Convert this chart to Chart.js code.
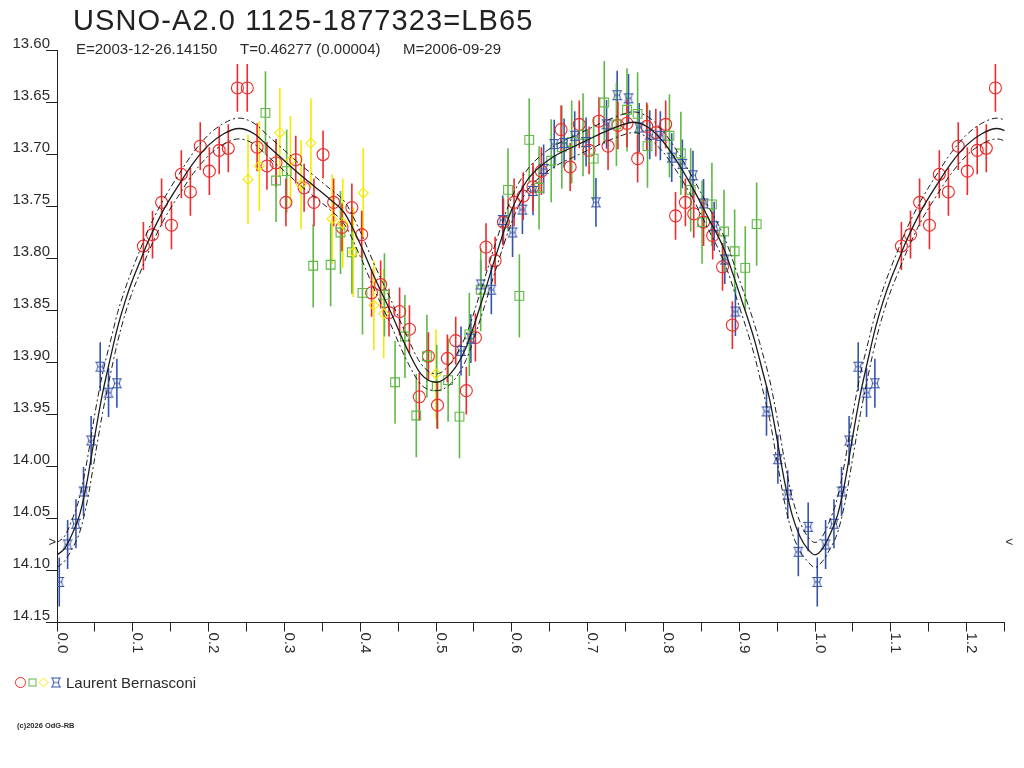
<!DOCTYPE html>
<html lang="en">
<head>
<meta charset="utf-8">
<title>USNO-A2.0 1125-1877323=LB65</title>
<script src="https://cdn.jsdelivr.net/npm/chart.js@4.4.1/dist/chart.umd.min.js"></script>
<style>
  html, body { margin: 0; padding: 0; background: #fff; }
  #page { position: relative; width: 1024px; height: 768px; overflow: hidden;
          font-family: "Liberation Sans", Arial, sans-serif; color: #2b2b2b; }
  #page canvas { position: absolute; left: 0; top: 0; }
  .txt { position: absolute; white-space: pre; }
  #title { left: 73px; top: 6px; font-size: 29px; line-height: 29px; letter-spacing: 1.1px; color: #222; }
  .sub { top: 41px; font-size: 15px; line-height: 15px; }
  #observer { left: 66px; top: 675px; font-size: 15px; line-height: 15px; }
  #copy { left: 17px; top: 722px; font-size: 7.5px; line-height: 7.5px; font-weight: bold; }
</style>
</head>
<body>
<div id="page">
  <canvas id="lightCurve" width="1024" height="768"></canvas>
  <div class="txt" id="title">USNO-A2.0 1125-1877323=LB65</div>
  <div class="txt sub" style="left:76px">E=2003-12-26.14150</div>
  <div class="txt sub" style="left:240px">T=0.46277 (0.00004)</div>
  <div class="txt sub" style="left:403px">M=2006-09-29</div>
  <div class="txt" id="observer">Laurent Bernasconi</div>
  <div class="txt" id="copy">(c)2026 OdG-RB</div>
</div>
<script>
// phases 0..1, the plot repeats them up to phase 1.25
const phaseMax = 1.25;

const redPhase = [0.114, 0.126, 0.138, 0.151, 0.164, 0.176, 0.189, 0.201, 0.214, 0.226, 0.238, 0.251, 0.264, 0.277, 0.289,
    0.302, 0.315, 0.326, 0.339, 0.351, 0.365, 0.376, 0.389, 0.402, 0.415, 0.427, 0.438, 0.452, 0.465, 0.478, 0.490,
    0.502, 0.515, 0.526, 0.540, 0.552, 0.566, 0.578, 0.589, 0.603, 0.615, 0.628, 0.639, 0.665, 0.677, 0.689, 0.702,
    0.715, 0.727, 0.740, 0.752, 0.766, 0.778, 0.790, 0.803, 0.816, 0.829, 0.840, 0.853, 0.865, 0.878, 0.891];
const redMag = [13.788, 13.777, 13.746, 13.768, 13.719, 13.736, 13.692, 13.716, 13.696, 13.694, 13.636, 13.636, 13.693, 13.711, 13.708,
    13.746, 13.705, 13.732, 13.746, 13.700, 13.746, 13.770, 13.751, 13.777, 13.833, 13.825, 13.852, 13.851, 13.868, 13.933, 13.894,
    13.941, 13.896, 13.879, 13.927, 13.876, 13.789, 13.802, 13.765, 13.746, 13.740, 13.731, 13.716, 13.676, 13.712, 13.671, 13.696,
    13.668, 13.692, 13.672, 13.670, 13.704, 13.673, 13.679, 13.671, 13.759, 13.746, 13.757, 13.765, 13.778, 13.808, 13.864];

const greenPhase = [0.275, 0.289, 0.303, 0.338, 0.361, 0.374, 0.389, 0.403, 0.432, 0.446, 0.459, 0.474, 0.488, 0.501,
    0.516, 0.531, 0.544, 0.559, 0.595, 0.610, 0.623, 0.636, 0.652, 0.666, 0.679, 0.694, 0.708, 0.722, 0.738, 0.752,
    0.766, 0.779, 0.808, 0.823, 0.836, 0.851, 0.864, 0.880, 0.894, 0.908, 0.923];
const greenMag = [13.660, 13.725, 13.716, 13.807, 13.806, 13.775, 13.794, 13.833, 13.835, 13.919, 13.875, 13.951, 13.894, 13.923,
    13.917, 13.952, 13.873, 13.830, 13.734, 13.836, 13.686, 13.732, 13.706, 13.693, 13.688, 13.681, 13.704, 13.650, 13.671, 13.657,
    13.661, 13.692, 13.682, 13.699, 13.734, 13.765, 13.748, 13.774, 13.793, 13.809, 13.767];

const yellowPhase = [0.252, 0.267, 0.294, 0.308, 0.322, 0.335, 0.363, 0.377, 0.391, 0.404, 0.418, 0.431, 0.500];
const yellowMag = [13.724, 13.711, 13.679, 13.706, 13.729, 13.689, 13.762, 13.766, 13.794, 13.737, 13.845, 13.853, 13.911];

const bluePhase = [0.003, 0.014, 0.025, 0.035, 0.045, 0.057, 0.068, 0.079, 0.533, 0.546, 0.559, 0.573, 0.588, 0.601,
    0.614, 0.628, 0.642, 0.656, 0.669, 0.683, 0.698, 0.711, 0.725, 0.739, 0.754, 0.768, 0.782, 0.796, 0.811, 0.825,
    0.839, 0.853, 0.867, 0.881, 0.895, 0.936, 0.951, 0.964, 0.978, 0.991];
const blueMag = [14.111, 14.075, 14.055, 14.024, 13.975, 13.904, 13.929, 13.920, 13.889, 13.877, 13.825, 13.830, 13.763, 13.775,
    13.753, 13.735, 13.714, 13.690, 13.689, 13.682, 13.688, 13.746, 13.671, 13.643, 13.646, 13.674, 13.681, 13.682, 13.703, 13.709,
    13.720, 13.747, 13.769, 13.801, 13.851, 13.947, 13.993, 14.027, 14.082, 14.058];

// error bar half lengths (mag)
const redErr = 0.023;
const greenErr = 0.040;
const yellowErr = 0.043;
const blueErr = 0.0235;

// fitted light curve and its envelope
const fitPhase = [0, 0.01, 0.02, 0.03, 0.04, 0.05, 0.06, 0.07, 0.08, 0.09, 0.10, 0.11, 0.12,
    0.14, 0.16, 0.18, 0.20, 0.22, 0.24, 0.26, 0.28, 0.30, 0.32, 0.34, 0.36, 0.38, 0.40, 0.42, 0.44, 0.46, 0.48,
    0.50, 0.52, 0.54, 0.56, 0.58, 0.60, 0.62, 0.64, 0.66, 0.68, 0.70, 0.72, 0.74, 0.76, 0.78, 0.80, 0.82, 0.84,
    0.86, 0.88, 0.90, 0.92, 0.93, 0.94, 0.95, 0.96, 0.97, 0.98, 0.99, 1.00];
const fitMag = [14.085, 14.079, 14.065, 14.046, 14.013, 13.970, 13.930, 13.897, 13.866, 13.841, 13.820, 13.802, 13.784,
    13.754, 13.730, 13.708, 13.691, 13.680, 13.675, 13.680, 13.693, 13.706, 13.719, 13.731, 13.743, 13.757, 13.786, 13.820, 13.851, 13.884, 13.911,
    13.919, 13.910, 13.885, 13.842, 13.795, 13.753, 13.725, 13.710, 13.700, 13.693, 13.686, 13.679, 13.673, 13.669, 13.674, 13.688, 13.709, 13.734,
    13.762, 13.791, 13.833, 13.878, 13.906, 13.935, 13.974, 14.015, 14.047, 14.067, 14.079, 14.085];
const fitUpper = [14.073, 14.067, 14.051, 14.029, 13.993, 13.949, 13.911, 13.881, 13.852, 13.829, 13.809, 13.791, 13.773,
    13.744, 13.720, 13.698, 13.681, 13.670, 13.665, 13.670, 13.683, 13.696, 13.709, 13.721, 13.733, 13.746, 13.774, 13.808, 13.839, 13.872, 13.901,
    13.911, 13.900, 13.873, 13.829, 13.782, 13.741, 13.715, 13.700, 13.690, 13.683, 13.676, 13.669, 13.663, 13.659, 13.664, 13.678, 13.699, 13.724,
    13.751, 13.779, 13.820, 13.863, 13.889, 13.916, 13.953, 13.995, 14.030, 14.053, 14.067, 14.073];
const fitLower = [14.097, 14.091, 14.079, 14.063, 14.033, 13.991, 13.949, 13.913, 13.880, 13.853, 13.831, 13.813, 13.795,
    13.764, 13.740, 13.718, 13.701, 13.690, 13.685, 13.690, 13.703, 13.716, 13.729, 13.741, 13.753, 13.768, 13.798, 13.832, 13.863, 13.896, 13.921,
    13.927, 13.920, 13.897, 13.855, 13.808, 13.765, 13.735, 13.720, 13.710, 13.703, 13.696, 13.689, 13.683, 13.679, 13.684, 13.698, 13.719, 13.744,
    13.773, 13.803, 13.846, 13.893, 13.923, 13.954, 13.995, 14.035, 14.064, 14.081, 14.091, 14.097];

// level marked with > and < on both sides
const minLevel = 14.073;

const RED = '#ee2a2a';
const GREEN = '#5fb845';
const YELLOW = '#f6e800';
const BLUE = '#3653aa';
const INK = '#2b2b2b';

// phase points plus their copy one cycle later (while still on the plot)
function foldPoints(phases, mags, limit) {
    const pts = phases.map((p, i) => ({ x: p, y: mags[i] }));
    phases.forEach((p, i) => {
        if (p > 0 && p + 1 <= limit) pts.push({ x: p + 1, y: mags[i] });
    });
    return pts;
}

function blueMarker() {
    const c = document.createElement('canvas');
    c.width = 12;
    c.height = 12;
    const g = c.getContext('2d');
    g.strokeStyle = BLUE;
    g.lineWidth = 1;
    g.beginPath();
    g.moveTo(1, 1.5); g.lineTo(11, 1.5);
    g.moveTo(1, 10.5); g.lineTo(11, 10.5);
    g.moveTo(2.5, 1.5); g.quadraticCurveTo(4.6, 6, 2.5, 10.5);
    g.moveTo(9.5, 1.5); g.quadraticCurveTo(7.4, 6, 9.5, 10.5);
    g.moveTo(3.5, 6); g.lineTo(8.5, 6);
    g.stroke();
    return c;
}
const blueStyle = blueMarker();

const errorBars = {
    id: 'errorBars',
    beforeDatasetsDraw(chart) {
        const { ctx, chartArea, scales } = chart;
        ctx.save();
        ctx.beginPath();
        ctx.rect(chartArea.left, chartArea.top, chartArea.right - chartArea.left, chartArea.bottom - chartArea.top);
        ctx.clip();
        chart.data.datasets.forEach((ds, i) => {
            if (!ds.errorBar) return;
            ctx.strokeStyle = ds.barColor;
            ctx.lineWidth = 1.6;
            chart.getDatasetMeta(i).data.forEach((el, j) => {
                const mag = ds.data[j].y;
                ctx.beginPath();
                ctx.moveTo(el.x, scales.y.getPixelForValue(mag - ds.errorBar));
                ctx.lineTo(el.x, scales.y.getPixelForValue(mag + ds.errorBar));
                ctx.stroke();
            });
        });
        ctx.restore();
    }
};

const axisExtras = {
    id: 'axisExtras',
    afterDraw(chart) {
        const { ctx, chartArea, scales } = chart;
        ctx.save();
        ctx.fillStyle = INK;

        // phase labels, turned to read downwards
        ctx.font = '15px "Liberation Sans", Arial, sans-serif';
        ctx.textAlign = 'left';
        ctx.textBaseline = 'alphabetic';
        scales.x.ticks.forEach(t => {
            const k = Math.round(t.value * 20);
            if (Math.abs(t.value * 20 - k) > 1e-6 || k % 2 !== 0) return;
            ctx.save();
            ctx.translate(scales.x.getPixelForValue(t.value) + 0.5, chartArea.bottom + 10);
            ctx.rotate(Math.PI / 2);
            ctx.fillText((k / 20).toFixed(1), 0, 0);
            ctx.restore();
        });

        // level marks
        const yMin = scales.y.getPixelForValue(minLevel);
        ctx.font = '13px "Liberation Sans", Arial, sans-serif';
        ctx.textBaseline = 'middle';
        ctx.textAlign = 'right';
        ctx.fillText('>', chartArea.left - 1, yMin);
        ctx.textAlign = 'left';
        ctx.fillText('<', chartArea.right + 1, yMin);

        // legend symbols
        const ly = 682.5;
        ctx.lineWidth = 1;
        ctx.strokeStyle = RED;
        ctx.beginPath(); ctx.arc(20.5, ly, 5, 0, Math.PI * 2); ctx.stroke();
        ctx.strokeStyle = GREEN;
        ctx.strokeRect(29, ly - 3.5, 7, 7);
        ctx.strokeStyle = YELLOW;
        ctx.beginPath();
        ctx.moveTo(43.5, ly - 4.5); ctx.lineTo(48, ly); ctx.lineTo(43.5, ly + 4.5); ctx.lineTo(39, ly);
        ctx.closePath(); ctx.stroke();
        ctx.drawImage(blueStyle, 50, ly - 6);
        ctx.restore();
    }
};

function curveSet(label, mags, width, dash) {
    return {
        type: 'line',
        label: label,
        data: foldPoints(fitPhase, mags, 1.27),
        borderColor: '#1c1c1c',
        borderWidth: width,
        borderDash: dash,
        pointRadius: 0,
        fill: false,
        cubicInterpolationMode: 'monotone',
        order: 0
    };
}

function pointSet(label, phases, mags, err, color, style, radius) {
    return {
        type: 'scatter',
        label: label,
        data: foldPoints(phases, mags, phaseMax),
        errorBar: err,
        barColor: color,
        pointStyle: style,
        pointRadius: radius,
        borderColor: color,
        backgroundColor: 'rgba(0,0,0,0)',
        pointBorderWidth: 1.1,
        order: 1
    };
}

const ctx = document.getElementById('lightCurve').getContext('2d');
new Chart(ctx, {
    data: {
        datasets: [
            curveSet('fit', fitMag, 1.3, []),
            curveSet('fit upper', fitUpper, 1, [6, 3, 2, 3]),
            curveSet('fit lower', fitLower, 1, [6, 3, 2, 3]),
            pointSet('blue', bluePhase, blueMag, blueErr, BLUE, blueStyle, 6),
            pointSet('yellow', yellowPhase, yellowMag, yellowErr, YELLOW, 'rectRot', 5),
            pointSet('green', greenPhase, greenMag, greenErr, GREEN, 'rect', 6.2),
            pointSet('red', redPhase, redMag, redErr, RED, 'circle', 6)
        ]
    },
    options: {
        responsive: false,
        animation: false,
        devicePixelRatio: 1,
        events: [],
        layout: { padding: { top: 50.5, right: 19.5, bottom: 0, left: 0 } },
        plugins: {
            legend: { display: false },
            tooltip: { enabled: false }
        },
        scales: {
            x: {
                type: 'linear',
                min: 0,
                max: phaseMax,
                ticks: {
                    stepSize: 0.05,
                    autoSkip: false,
                    maxRotation: 0,
                    callback: () => ''
                },
                grid: { drawOnChartArea: false, drawTicks: true, tickLength: 9, color: '#222' },
                border: { color: '#222', width: 1 },
                afterFit: scale => { scale.height = 145.5; }
            },
            y: {
                type: 'linear',
                reverse: true,
                min: 13.60,
                max: 14.15,
                ticks: {
                    stepSize: 0.05,
                    labelOffset: -7,
                    padding: -4,
                    color: INK,
                    font: { family: '"Liberation Sans", Arial, sans-serif', size: 15 },
                    callback: v => v.toFixed(2)
                },
                grid: { drawOnChartArea: false, drawTicks: true, tickLength: 11, color: '#222' },
                border: { color: '#222', width: 1 },
                afterFit: scale => { scale.width = 57; }
            }
        }
    },
    plugins: [errorBars, axisExtras]
});
</script>
</body>
</html>
